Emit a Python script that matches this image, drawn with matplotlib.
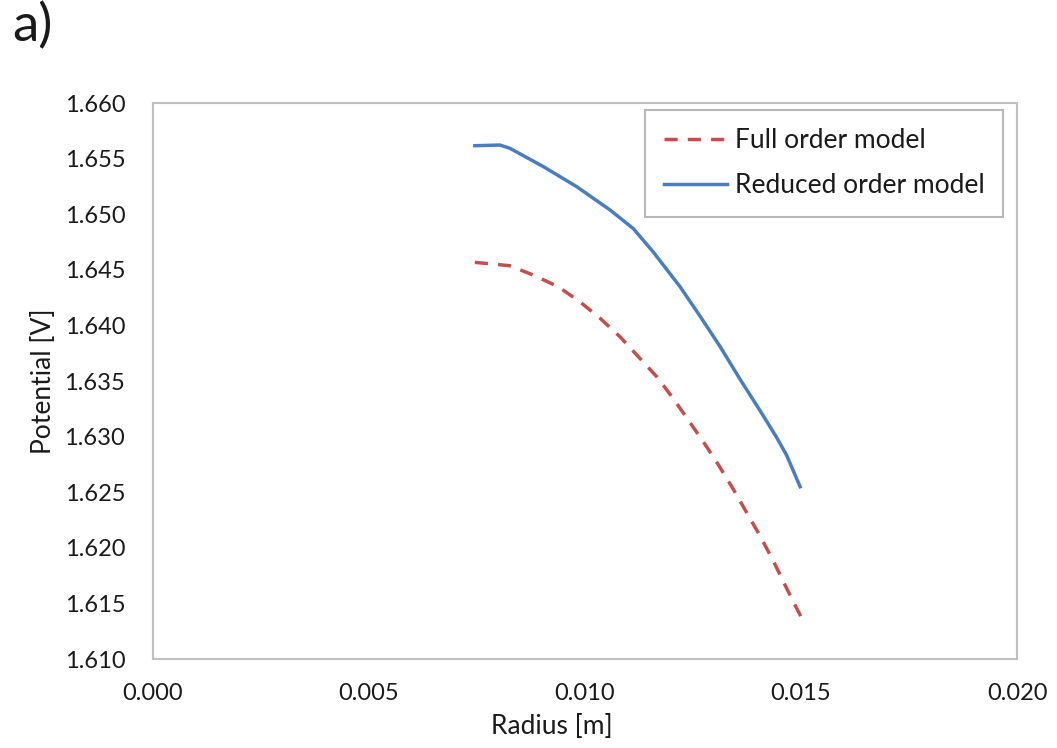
import numpy as np
import matplotlib.pyplot as plt

# values
r_full = [0.00745, 0.00826, 0.00880, 0.00938, 0.00988, 0.01035, 0.01081, 0.01127, 0.01166,
          0.01204, 0.01239, 0.01274, 0.01309, 0.01342, 0.01373, 0.01404, 0.01435, 0.01461,
          0.01494, 0.0150]
v_full = [1.64567, 1.64537, 1.64453, 1.64348, 1.64213, 1.64064, 1.63898, 1.63704, 1.63539,
          1.63344, 1.63149, 1.62954, 1.62745, 1.62535, 1.62325, 1.62115, 1.61890, 1.61681,
          1.61425, 1.61380]

r_red = [0.00745, 0.00803, 0.00826, 0.00904, 0.00981, 0.01058, 0.01112, 0.01158, 0.01220,
         0.01266, 0.01313, 0.01359, 0.01405, 0.01444, 0.01467, 0.01498]
v_red = [1.65616, 1.65622, 1.65593, 1.65427, 1.65247, 1.65038, 1.64870, 1.64660, 1.64348,
         1.64085, 1.63808, 1.63515, 1.63235, 1.62990, 1.62830, 1.62549]

xticks = [0.000, 0.005, 0.010, 0.015, 0.020]
yticks = [1.610, 1.615, 1.620, 1.625, 1.630, 1.635, 1.640, 1.645, 1.650, 1.655, 1.660]

plt.rcParams['font.family'] = ['Lato', 'DejaVu Sans']

W, H = 1057, 748
fig = plt.figure(figsize=(W / 100, H / 100), dpi=100)
ax = fig.add_axes([153 / W, 1 - 659 / H, 864 / W, 556 / H])

ax.plot(r_full, v_full, color='#C0504D', lw=2.5, ls=(0, (3.8, 2.9)), label='Full order model')
ax.plot(r_red, v_red, color='#4A7EBB', lw=2.5, label='Reduced order model')

ax.set_xlim(0, 0.02)
ax.set_ylim(1.610, 1.660)
ax.set_xticks(xticks)
ax.set_yticks(yticks)
ax.set_xticklabels(['%.3f' % t for t in xticks])
ax.set_yticklabels(['%.3f' % t for t in yticks])
ax.tick_params(length=0, labelsize=17, colors='#1a1a1a')
ax.tick_params(axis='y', pad=20)
ax.tick_params(axis='x', pad=17)
for sp in ax.spines.values():
    sp.set_color('#C0C0C0')
    sp.set_linewidth(1.5)

ax.set_xlabel('Radius [m]', fontsize=19, color='#1a1a1a')
ax.xaxis.label.set_ha('right')
ax.xaxis.set_label_coords((613 - 153) / 864, -(714 - 659) / 556)
ax.set_ylabel('Potential [V]', fontsize=19, color='#1a1a1a')
ax.yaxis.set_label_coords((56 - 153) / 864, 0.5)

leg = ax.legend(loc='upper right', bbox_to_anchor=(1003 / W, 1 - 110 / H),
                bbox_transform=fig.transFigure, borderaxespad=0, fontsize=19,
                fancybox=False, edgecolor='#A6A6A6', handlelength=2.4, borderpad=0.7,
                labelspacing=0.75, handletextpad=0.3)
leg.get_frame().set_linewidth(1.5)
for t in leg.get_texts():
    t.set_color('#1a1a1a')

fig.text(12 / W, 1 - 2 / H, 'a)', fontsize=38, va='top', ha='left', color='#1a1a1a')

fig.savefig('out.png', dpi=100)
